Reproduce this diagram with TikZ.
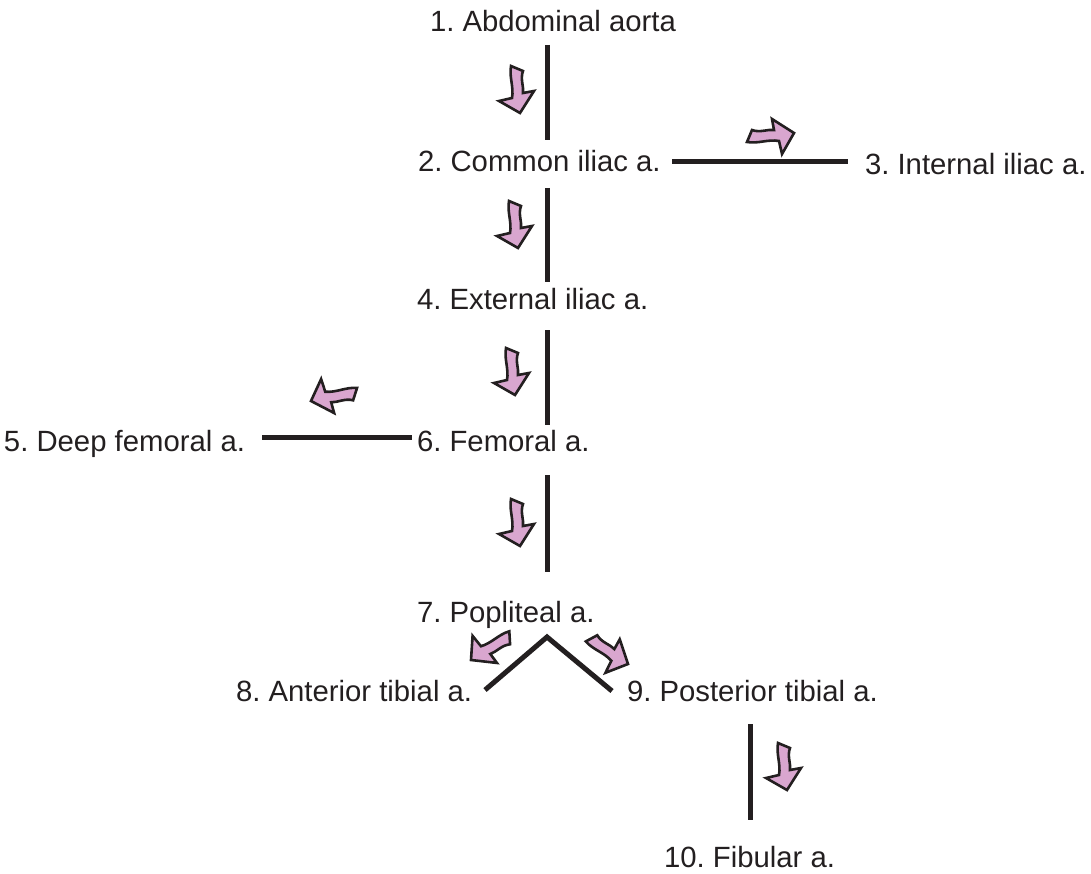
\documentclass[tikz,border=0pt]{standalone}
\usepackage{fontspec}
\setmainfont{Liberation Sans}
\frenchspacing
\definecolor{ink}{HTML}{231F20}
\definecolor{pinkfill}{HTML}{D9A6CF}
\tikzset{
  lbl/.style={anchor=base west, inner sep=0pt, outer sep=0pt, text=ink, font=\fontsize{29.3}{35}\selectfont},
  bar/.style={draw=ink, line width=5pt},
  arrowfill/.style={draw=ink, fill=pinkfill, line width=2.6pt, line join=miter},
  pics/flow/.style={code={
    \path[arrowfill] (0,0) -- (-21,-12) -- (-8,-15)
      .. controls (-6,-26) and (-11,-36) .. (-9,-47) -- (3,-42)
      .. controls (0,-34) and (4,-26) .. (3,-20) -- (14,-22) -- cycle;
  }}
}
\begin{document}
\begin{tikzpicture}[x=1pt,y=-1pt]
\useasboundingbox (0,0) rectangle (1091,874);
% labels
\node[lbl] (n1) at (430,32) {1. Abdominal aorta};
\node[lbl] (n2) at (418,172) {2. Common iliac a.};
\node[lbl] (n3) at (865,175) {3. Internal iliac a.};
\node[lbl] (n4) at (417,309) {4. External iliac a.};
\node[lbl] (n5) at (4,451) {5. Deep femoral a.};
\node[lbl] (n6) at (417,451) {6. Femoral a.};
\node[lbl] (n7) at (417,622) {7. Popliteal a.};
\node[lbl] (n8) at (236,701) {8. Anterior tibial a.};
\node[lbl] (n9) at (627,701) {9. Posterior tibial a.};
\node[lbl] (n10) at (664,867) {10. Fibular a.};
% bar end points
\coordinate (a1) at (547,45);  \coordinate (a2) at (547,140);
\coordinate (b1) at (547,188); \coordinate (b2) at (547,282);
\coordinate (c1) at (547,330); \coordinate (c2) at (547,425);
\coordinate (d1) at (547,475); \coordinate (d2) at (547,572);
\coordinate (h1) at (672,162); \coordinate (h2) at (848,162);
\coordinate (g1) at (262,437); \coordinate (g2) at (412,437);
\coordinate (v1) at (485,690); \coordinate (v2) at (547,637); \coordinate (v3) at (612,691);
\coordinate (f1) at (750,724); \coordinate (f2) at (750,820);
% bars
\draw[bar] (a1) -- (a2);
\draw[bar] (b1) -- (b2);
\draw[bar] (c1) -- (c2);
\draw[bar] (d1) -- (d2);
\draw[bar] (h1) -- (h2);
\draw[bar] (g1) -- (g2);
\draw[bar, line join=miter] (v1) -- (v2) -- (v3);
\draw[bar] (f1) -- (f2);
% flow arrows
\pic at (520,113) {flow};
\pic at (518,248) {flow};
\pic at (515,395) {flow};
\pic at (520,546) {flow};
\pic[rotate=90] at (794,133) {flow};
\pic[rotate=-85] at (311,401) {flow};
\pic[rotate=-64] at (471,660) {flow};
\pic[rotate=51] at (628,664) {flow};
\pic at (787,790) {flow};
\end{tikzpicture}
\end{document}
